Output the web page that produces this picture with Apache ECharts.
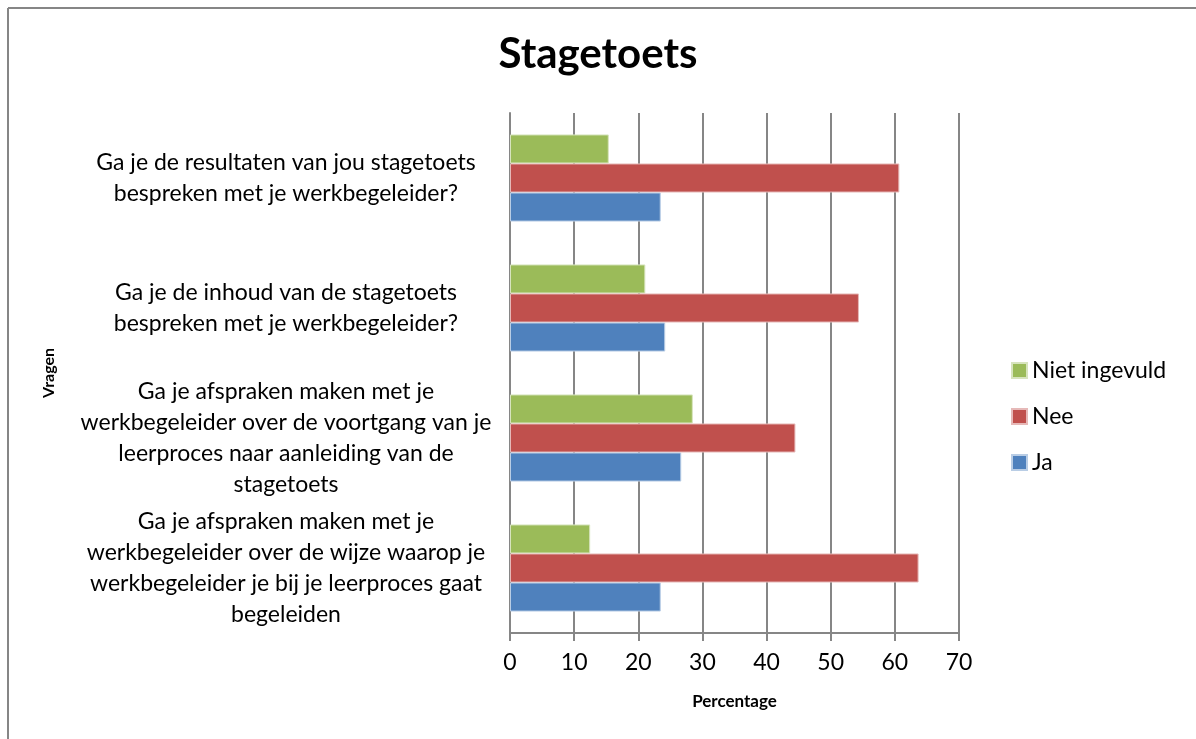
<!DOCTYPE html>
<html>
<head>
<meta charset="utf-8">
<title>Stagetoets</title>
<script src="https://cdn.jsdelivr.net/npm/echarts@6/dist/echarts.min.js"></script>
<style>
  html, body { margin: 0; padding: 0; background: #fff; }
  #chart { width: 1196px; height: 739px; }
</style>
</head>
<body>
<div id="chart"></div>
<script>
// vragen, van onder naar boven (category as begint onderaan)
var vragen = [
  'Ga je afspraken maken met je\nwerkbegeleider over de wijze waarop je\nwerkbegeleider je bij je leerproces gaat\nbegeleiden',
  'Ga je afspraken maken met je\nwerkbegeleider over de voortgang van je\nleerproces naar aanleiding van de\nstagetoets',
  'Ga je de inhoud van de stagetoets\nbespreken met je werkbegeleider?',
  'Ga je de resultaten van jou stagetoets\nbespreken met je werkbegeleider?'
];
var ja = [23.5, 26.7, 24.2, 23.5];
var nee = [63.7, 44.5, 54.4, 60.7];
var nietIngevuld = [12.5, 28.5, 21.1, 15.4];
var xTicks = [0, 10, 20, 30, 40, 50, 60, 70];

var font = 'Lato, "Open Sans", sans-serif';
var myChart = echarts.init(document.getElementById('chart'));

var option = {
  backgroundColor: '#fff',
  animation: false,
  textStyle: { fontFamily: font },
  title: {
    text: 'Stagetoets',
    left: 'center',
    top: 28,
    textStyle: { fontFamily: font, fontSize: 42, fontWeight: 'bold', color: '#000' }
  },
  legend: {
    orient: 'vertical',
    left: 1006,
    top: 354,
    itemWidth: 15,
    itemHeight: 15,
    itemGap: 23,
    icon: 'rect',
    data: ['Niet ingevuld', 'Nee', 'Ja'],
    textStyle: { fontFamily: font, fontSize: 23, color: '#000', lineHeight: 23 }
  },
  grid: { left: 510, right: 237, top: 113, bottom: 106 },
  xAxis: {
    type: 'value',
    min: xTicks[0],
    max: xTicks[xTicks.length - 1],
    interval: 10,
    name: 'Percentage',
    nameLocation: 'middle',
    nameGap: 60,
    nameTextStyle: { fontFamily: font, fontSize: 17, fontWeight: 'bold', color: '#000' },
    axisLine: { show: true, lineStyle: { color: '#868686', width: 2 } },
    axisTick: { show: true, length: 8, lineStyle: { color: '#868686', width: 2 } },
    axisLabel: { fontFamily: font, fontSize: 23, color: '#000', margin: 18 },
    splitLine: { show: true, lineStyle: { color: '#868686', width: 2 } }
  },
  yAxis: {
    type: 'category',
    data: vragen,
    name: 'Vragen',
    nameLocation: 'middle',
    nameRotate: 90,
    nameGap: 453,
    nameTextStyle: { fontFamily: font, fontSize: 16, fontWeight: 'bold', color: '#000' },
    axisLine: { show: true, lineStyle: { color: '#868686', width: 2 } },
    axisTick: { show: false },
    axisLabel: {
      fontFamily: font,
      fontSize: 23,
      lineHeight: 31,
      color: '#000',
      align: 'center',
      margin: 224
    }
  },
  series: [
    {
      name: 'Niet ingevuld', type: 'bar', data: nietIngevuld,
      barGap: '0%', barCategoryGap: '33%',
      itemStyle: { color: '#9BBB59', borderColor: '#D7E4BD', borderWidth: 1 }
    },
    {
      name: 'Nee', type: 'bar', data: nee,
      itemStyle: { color: '#C0504D', borderColor: '#E6B9B8', borderWidth: 1 }
    },
    {
      name: 'Ja', type: 'bar', data: ja,
      itemStyle: { color: '#4F81BD', borderColor: '#B9CDE5', borderWidth: 1 }
    }
  ],
  graphic: [
    { type: 'line', shape: { x1: 8, y1: 8, x2: 1196, y2: 8 }, style: { stroke: '#868686', lineWidth: 2 } },
    { type: 'line', shape: { x1: 8, y1: 8, x2: 8, y2: 739 }, style: { stroke: '#868686', lineWidth: 2 } }
  ]
};

myChart.setOption(option);
</script>
</body>
</html>
